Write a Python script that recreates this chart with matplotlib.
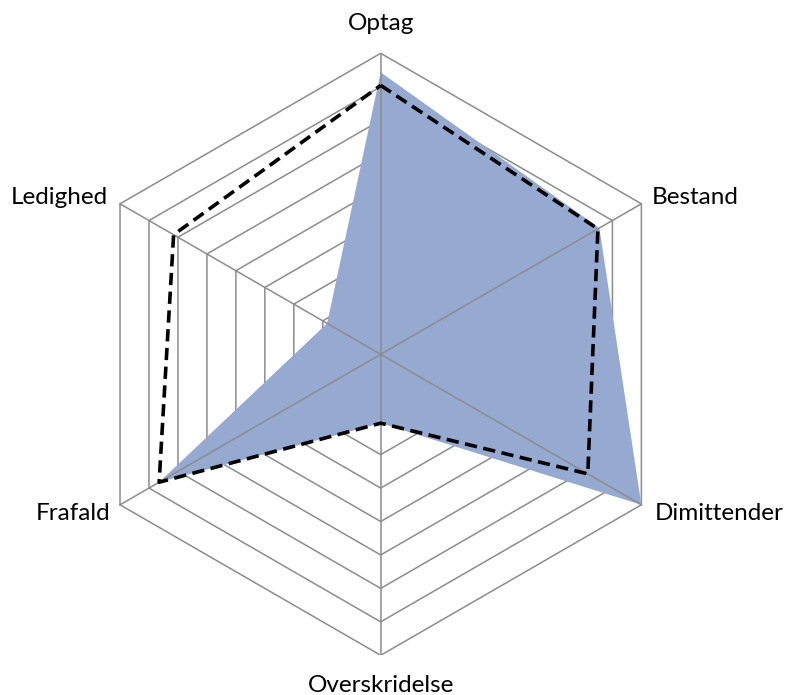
import numpy as np
import matplotlib
matplotlib.use("Agg")
import matplotlib.pyplot as plt
from matplotlib.patches import Polygon

categories = ["Optag", "Bestand", "Dimittender", "Overskridelse", "Frafald", "Ledighed"]
series_fill = [8.43, 7.55, 9.0, 2.06, 7.65, 1.85]
series_dash = [8.04, 7.5, 7.15, 2.06, 7.65, 7.15]
rmax = 9
ring_step = 1

W, H = 786, 695
fig = plt.figure(figsize=(W / 100, H / 100), dpi=100)
cx, cy, R = 380.7, 354.3, 301.0
ax = fig.add_axes([(cx - R) / W, (H - cy - R) / H, 2 * R / W, 2 * R / H])
ax.set_xlim(-rmax, rmax)
ax.set_ylim(-rmax, rmax)
ax.set_aspect("equal")
ax.axis("off")

n = len(categories)
theta = np.arange(n) * 2 * np.pi / n
sx, sy = np.sin(theta), np.cos(theta)

grid_col = "#8c8c8c"
for r in np.arange(ring_step, rmax + 0.001, ring_step):
    ax.add_patch(Polygon(np.column_stack([r * sx, r * sy]), closed=True, fill=False,
                         edgecolor=grid_col, lw=1.1, zorder=1, joinstyle="miter"))

f = np.array(series_fill)
ax.fill(f * sx, f * sy, color="#95a9d1", lw=0, zorder=2)

for i in range(n):
    ax.plot([0, rmax * sx[i]], [0, rmax * sy[i]], color=grid_col, lw=1.1, zorder=3)

d = np.array(series_dash)
ax.add_patch(Polygon(np.column_stack([d * sx, d * sy]), closed=True, fill=False,
                     edgecolor="black", lw=2.6, ls=(0, (3.4, 1.8)), zorder=4,
                     joinstyle="round"))

u = R / rmax
def px(x, y):
    return ((x - cx) / u, (cy - y) / u)

fs = 17.5
fam = ["Lato", "DejaVu Sans"]
label_pos = [
    (px(380.7, 23), "center", "center"),
    (px(652, 197), "left", "center"),
    (px(655, 514), "left", "center"),
    (px(380.7, 685), "center", "center"),
    (px(110, 514), "right", "center"),
    (px(108, 197), "right", "center"),
]
for lab, ((x, y), ha, va) in zip(categories, label_pos):
    ax.text(x, y, lab, ha=ha, va=va, fontsize=fs, family=fam, clip_on=False)

fig.savefig("out.png", dpi=100)
